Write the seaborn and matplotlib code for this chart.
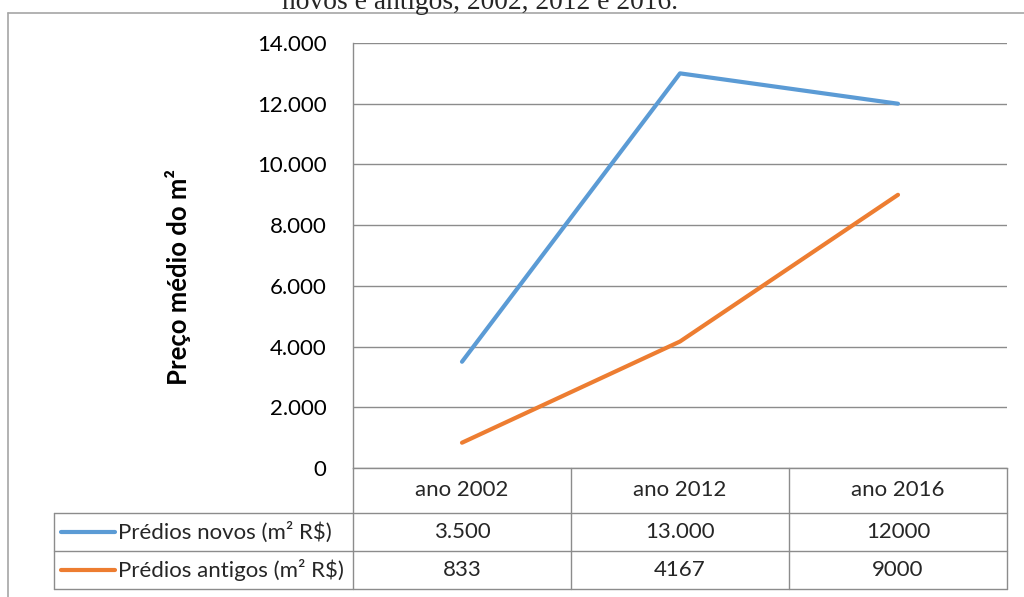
import numpy as np
import pandas as pd
import seaborn as sns
import matplotlib.pyplot as plt
import matplotlib.transforms as mtransforms
from matplotlib.lines import Line2D
from matplotlib.ticker import FuncFormatter

# data
anos = ['ano 2002', 'ano 2012', 'ano 2016']
serie_novos = 'Prédios novos (m² R$)'
serie_antigos = 'Prédios antigos (m² R$)'
precos_novos = [3500, 13000, 12000]
precos_antigos = [833, 4167, 9000]
rotulos_novos = ['3.500', '13.000', '12000']
rotulos_antigos = ['833', '4167', '9000']
y_ticks = [0, 2000, 4000, 6000, 8000, 10000, 12000, 14000]
legenda = 'novos e antigos, 2002, 2012 e 2016.'

cores = {serie_novos: '#5B9BD5', serie_antigos: '#ED7D31'}
grid_cor = '#8C8C8C'
borda_cor = '#A6A6A6'

df = pd.DataFrame({
    'ano': anos * 2,
    'preco': precos_novos + precos_antigos,
    'serie': [serie_novos] * 3 + [serie_antigos] * 3,
})

sns.set_theme(style='white')
plt.rcParams['font.family'] = ['Lato', 'DejaVu Sans']

W, H = 1024, 597
fig = plt.figure(figsize=(W / 100, H / 100), dpi=100)
# plot area in pixels: x 353..1007, y 43..468
ax = fig.add_axes([353 / W, 1 - 468 / H, 654 / W, 425 / H])

sns.lineplot(data=df, x='ano', y='preco', hue='serie', palette=cores,
             linewidth=3, legend=False, ax=ax, sort=False)
for ln in ax.lines:
    ln.set_solid_capstyle('round')

ax.set_xlim(-0.5, 2.5)
ax.set_ylim(0, 14000)
ax.set_yticks(y_ticks)
ax.yaxis.set_major_formatter(FuncFormatter(lambda v, p: f'{int(v):,}'.replace(',', '.')))
ax.tick_params(axis='y', length=0, pad=19, labelsize=16, labelcolor='#000000')
ax.tick_params(axis='x', length=0, labelbottom=False)
ax.set_xlabel('')
ax.grid(axis='y', color=grid_cor, linewidth=1)
ax.set_axisbelow(True)
for s in ['top', 'right']:
    ax.spines[s].set_visible(False)
for s in ['left', 'bottom']:
    ax.spines[s].set_color(grid_cor)
    ax.spines[s].set_linewidth(1)

ax.set_ylabel('Preço médio do m²', fontsize=18.5, fontweight='bold', color='#000000')
ax.yaxis.set_label_coords(-0.248, 0.449)

# data table below the plot (x in data units, y in axes units)
trans = mtransforms.blended_transform_factory(ax.transData, ax.transAxes)
px = 218.0  # pixels per category
def yax(pix):
    return (468 - pix) / 425.0
def xdat(pix):
    return -0.5 - (353 - pix) / px

r1, r2, r3 = yax(513), yax(551), yax(589)
x_left = xdat(54)
line_kw = dict(color=grid_cor, linewidth=1, transform=trans, clip_on=False)
for xb in [-0.5, 0.5, 1.5, 2.5]:
    ax.plot([xb, xb], [0, r3], **line_kw)
ax.plot([x_left, x_left], [r1, r3], **line_kw)
for yb in [r1, r2, r3]:
    ax.plot([x_left, 2.5], [yb, yb], **line_kw)

fs = 16
for i, ano in enumerate(anos):
    ax.text(i, (0 + r1) / 2, ano, ha='center', va='center', fontsize=fs, transform=trans)
    ax.text(i, (r1 + r2) / 2, rotulos_novos[i], ha='center', va='center', fontsize=fs, transform=trans)
    ax.text(i, (r2 + r3) / 2, rotulos_antigos[i], ha='center', va='center', fontsize=fs, transform=trans)

for serie, yc in [(serie_novos, (r1 + r2) / 2), (serie_antigos, (r2 + r3) / 2)]:
    ax.plot([xdat(61), xdat(115)], [yc, yc], color=cores[serie], linewidth=3,
            transform=trans, clip_on=False)
    ax.text(xdat(118), yc, serie, ha='left', va='center', fontsize=fs, transform=trans)

# outer chart border (top and left visible)
fig.add_artist(Line2D([8 / W, 1.01], [1 - 13 / H, 1 - 13 / H], color=borda_cor, linewidth=1.2))
fig.add_artist(Line2D([8 / W, 8 / W], [1 - 13 / H, -0.01], color=borda_cor, linewidth=1.2))

# caption above the chart, cropped by the top edge as in the source image
fig.text(480 / W, 1 - 9 / H, legenda, ha='center', va='baseline', fontsize=19.8,
         family=['Liberation Serif', 'DejaVu Serif'])

fig.savefig('out.png', dpi=100)
